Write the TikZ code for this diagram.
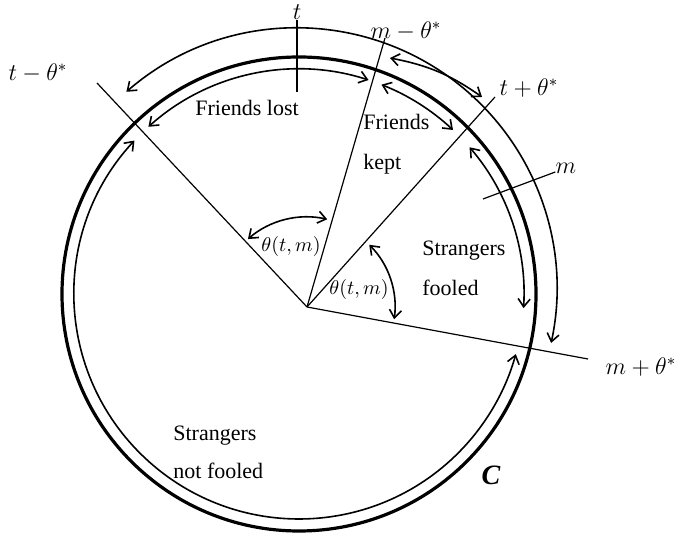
\documentclass[tikz,border=0pt]{standalone}
\usepackage{fontspec}
\setmainfont{Liberation Serif}
\usepackage{amsmath,amssymb}
\usetikzlibrary{arrows.meta}

\begin{document}
\begin{tikzpicture}[x=0.5pt,y=0.5pt,>={Straight Barb[length=4pt,width=6pt]},
  ray/.style={line width=0.6pt},
  band/.style={<->,line width=0.8pt},
  lbl/.style={font=\fontsize{11}{13}\selectfont,align=left,inner sep=0pt},
  mlbl/.style={font=\fontsize{12}{14}\selectfont,inner sep=0pt}]
\useasboundingbox (0,0) rectangle (680,534);
\coordinate (O) at (299,240);
\coordinate (O2) at (297,246);
\coordinate (V) at (307,227);
% the circle C and the inner ring of arcs
\draw[line width=1.6pt] (O) circle (237);
\draw[band] ([shift={(72:225)}]O) arc[start angle=72,end angle=132,radius=225];
\draw[band] ([shift={(68.5:225)}]O) arc[start angle=68.5,end angle=46.8,radius=225];
\draw[band] ([shift={(40.7:225)}]O) arc[start angle=40.7,end angle=-3.6,radius=225];
\draw[band] ([shift={(137:225)}]O) arc[start angle=137,end angle=344.5,radius=225];
% outside arcs
\draw[band] ([shift={(131:260)}]O2) arc[start angle=131,end angle=-12.2,radius=260];
\coordinate (b1) at (390,476);
\coordinate (b2) at (482,437);
\draw[band] (b1) to[bend left=12] (b2);
% rays
\coordinate (r1) at (97,451);
\coordinate (r2) at (385,496);
\coordinate (r3) at (495,437);
\coordinate (r4) at (588,175);
\foreach \p in {r1,r2,r3,r4} \draw[ray] (V) -- (\p);
\draw[band] ([shift={(77:90)}]V) arc[start angle=77,end angle=131,radius=90];
\draw[band] ([shift={(45:88)}]V) arc[start angle=45,end angle=-8,radius=88];
% labels
\node[mlbl] (tminus) at (38,461) {$t-\theta^*$};
\node[mlbl] (t) at (297,522) {$t$};
\node[mlbl] (mminus) at (406,503) {$m-\theta^*$};
\node[mlbl] (tplus) at (529,446) {$t+\theta^*$};
\node[mlbl] (m) at (566,366) {$m$};
\node[mlbl] (mplus) at (641,167) {$m+\theta^*$};
\coordinate (t0) at (297,442);
\coordinate (m0) at (483,335);
\draw[ray] (t0) -- (t);
\draw[ray] (m0) -- (m);
\node[lbl,anchor=west] (lost) at (195,426) {Friends lost};
\node[lbl,anchor=west] (kept) at (363,390) {Friends\\[7pt]kept};
\node[lbl,anchor=west] (fooled) at (422,266) {Strangers\\[7pt]fooled};
\node[lbl,anchor=west] (notfooled) at (173,82) {Strangers\\[6pt]not fooled};
\node[font=\fontsize{10}{12}\selectfont,inner sep=0pt] (ang1) at (291,287) {$\theta(t,m)$};
\node[font=\fontsize{10}{12}\selectfont,inner sep=0pt] (ang2) at (359,244) {$\theta(t,m)$};
\node[font=\fontsize{14}{16}\selectfont\bfseries\itshape,inner sep=0pt] (C) at (491,59) {C};
\end{tikzpicture}
\end{document}
